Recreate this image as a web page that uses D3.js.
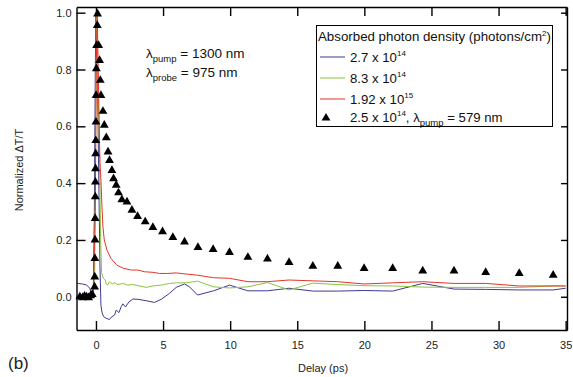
<!DOCTYPE html>
<html>
<head>
<meta charset="utf-8">
<script src="https://cdn.jsdelivr.net/npm/d3@7"></script>
<style>
  body { margin: 0; background: #fff; }
  svg { font-family: "Liberation Sans", Arial, sans-serif; }
  .axis text { font-size: 11px; fill: #222; }
  .axis path, .axis line { stroke: #000; stroke-width: 1.4; }
</style>
</head>
<body>
<svg width="573" height="377"></svg>
<script>
// delay (ps) / normalized dT/T
var blueX = [-1.4, -1.0, -0.7, -0.45, -0.35, -0.2, -0.12, -0.05, 0.0, 0.1, 0.2, 0.3, 0.37, 0.45, 0.57, 0.77, 1.01, 1.14, 1.39, 1.51, 1.71, 1.88, 2.0, 2.2, 2.46, 2.75, 3.13, 3.5, 3.87, 4.36, 4.86, 5.48, 5.98, 6.6, 6.97, 7.57, 8.76, 9.95, 11.32, 12.78, 14.39, 16.16, 18.02, 19.98, 22.11, 24.35, 26.68, 29.04, 31.54, 34.07, 35.0];
var blueY = [0.047, 0.045, 0.041, 0.03, 0.005, 0.01, 0.3, 0.8, 1.0, 0.8, 0.45, 0.1, -0.03, -0.055, -0.07, -0.076, -0.08, -0.072, -0.064, -0.047, -0.056, -0.035, -0.025, -0.036, -0.018, -0.008, -0.009, -0.012, -0.015, -0.02, -0.009, 0.012, 0.033, 0.045, 0.035, 0.006, 0.021, 0.041, 0.021, 0.021, 0.03, 0.02, 0.02, 0.022, 0.02, 0.047, 0.027, 0.026, 0.024, 0.024, 0.03];

var greenX = [-1.3, -0.3, -0.1, 0.0, 0.05, 0.12, 0.25, 0.35, 0.42, 0.55, 0.69, 0.77, 0.86, 1.01, 1.21, 1.39, 1.64, 2.0, 2.38, 2.75, 3.25, 3.75, 4.24, 4.86, 5.48, 6.0, 6.72, 7.57, 8.76, 9.95, 11.32, 12.78, 14.39, 16.16, 18.02, 19.98, 22.11, 24.35, 26.68, 29.04, 31.54, 34.07, 35.0];
var greenY = [0.0, 0.0, 0.05, 0.7, 1.0, 0.8, 0.55, 0.2, 0.085, 0.065, 0.059, 0.045, 0.041, 0.053, 0.045, 0.049, 0.043, 0.047, 0.041, 0.043, 0.038, 0.033, 0.038, 0.041, 0.047, 0.049, 0.049, 0.055, 0.035, 0.031, 0.035, 0.05, 0.024, 0.048, 0.043, 0.039, 0.038, 0.034, 0.033, 0.033, 0.033, 0.038, 0.038];

var redX = [-1.3, -0.5, -0.2, -0.05, 0.02, 0.09, 0.17, 0.24, 0.3, 0.37, 0.45, 0.52, 0.62, 0.82, 1.12, 1.56, 2.06, 2.63, 3.13, 3.62, 4.24, 4.74, 5.36, 5.98, 6.72, 7.57, 8.76, 9.95, 11.32, 12.78, 14.39, 16.16, 18.02, 19.98, 22.11, 24.35, 26.68, 29.04, 31.54, 34.07, 35.0];
var redY = [0.0, 0.0, 0.01, 0.3, 0.8, 1.0, 0.8, 0.6, 0.47, 0.41, 0.316, 0.246, 0.2, 0.164, 0.135, 0.111, 0.1, 0.094, 0.094, 0.088, 0.086, 0.082, 0.082, 0.084, 0.08, 0.076, 0.067, 0.065, 0.053, 0.053, 0.059, 0.056, 0.053, 0.045, 0.049, 0.053, 0.047, 0.047, 0.038, 0.038, 0.038];

var triX = [-1.2, -1.0, -0.85, -0.7, -0.55, -0.4, -0.28,
  -0.1, -0.09, -0.08, -0.07, -0.06, -0.05, -0.04, -0.03, -0.02, -0.01, 0.0, 0.01, 0.03, 0.05, 0.1, 0.12,
  0.2, 0.27, 0.32, 0.37, 0.52, 0.62, 0.77, 0.9, 1.01, 1.19, 1.31, 1.51, 1.68, 1.93, 2.31, 2.68, 3.1, 3.67, 4.24, 4.96, 5.73, 6.6, 7.6, 8.73, 9.95, 11.32, 12.78, 14.39, 16.16, 18.02, 19.98, 22.11, 24.35, 26.68, 29.04, 31.54, 34.07];
var triY = [0.0, -0.003, 0.002, 0.0, -0.003, 0.004, 0.008,
  0.035, 0.07, 0.135, 0.2, 0.276, 0.352, 0.404, 0.451, 0.504, 0.55, 0.615, 0.709, 0.803, 0.885, 0.955, 0.996,
  0.885, 0.832, 0.762, 0.709, 0.653, 0.604, 0.56, 0.51, 0.48, 0.445, 0.416, 0.393, 0.366, 0.342, 0.334, 0.305, 0.283, 0.264, 0.244, 0.229, 0.209, 0.193, 0.174, 0.167, 0.156, 0.139, 0.133, 0.121, 0.108, 0.108, 0.1, 0.1, 0.091, 0.091, 0.086, 0.082, 0.076];

var xTicks = [0, 5, 10, 15, 20, 25, 30, 35];
var yTicks = [0, 0.2, 0.4, 0.6, 0.8, 1.0];
var legendLabels = ["2.7 x 10", "8.3 x 10", "1.92 x 10"];
var legendExp = ["14", "14", "15"];
var colors = ["#3d3b8e", "#8cc43f", "#e3352a"];

var svg = d3.select("svg");
var mLeft = 76.5, mRight = 567, mTop = 7, mBottom = 330;

var x = d3.scaleLinear().domain([-1.45, 35.1]).range([mLeft, mRight]);
var y = d3.scaleLinear().domain([-0.117, 1.02]).range([mBottom, mTop]);

function zip(xs, ys) {
  return xs.map(function(v, i) { return [v, ys[i]]; });
}

var line = d3.line().x(function(d) { return x(d[0]); }).y(function(d) { return y(d[1]); });

svg.append("clipPath").attr("id", "clip")
  .append("rect").attr("x", mLeft).attr("y", mTop).attr("width", mRight - mLeft).attr("height", mBottom - mTop);

var plot = svg.append("g").attr("clip-path", "url(#clip)");

[zip(blueX, blueY), zip(greenX, greenY), zip(redX, redY)].forEach(function(s, i) {
  plot.append("path").datum(s)
    .attr("fill", "none")
    .attr("stroke", colors[i])
    .attr("stroke-width", 1)
    .attr("d", line);
});

var tri = d3.symbol().type(d3.symbolTriangle).size(34);
svg.append("g").selectAll(".tri").data(zip(triX, triY)).enter().append("path")
  .attr("class", "tri")
  .attr("d", tri)
  .attr("fill", "#000")
  .attr("transform", function(d) { return "translate(" + x(d[0]) + "," + y(d[1]) + ")"; });

// axes (frame on all four sides, ticks inward)
svg.append("g").attr("class", "axis")
  .attr("transform", "translate(0," + mBottom + ")")
  .call(d3.axisBottom(x).tickValues(xTicks).tickSizeInner(-9).tickSizeOuter(0).tickPadding(11));
svg.append("g").attr("class", "axis")
  .attr("transform", "translate(0," + mTop + ")")
  .call(d3.axisTop(x).tickValues(xTicks).tickSizeInner(-9).tickSizeOuter(0).tickFormat(""));
svg.append("g").attr("class", "axis")
  .attr("transform", "translate(" + mLeft + ",0)")
  .call(d3.axisLeft(y).tickValues(yTicks).tickSizeInner(-9).tickSizeOuter(0).tickPadding(5).tickFormat(d3.format(".1f")));
svg.append("g").attr("class", "axis")
  .attr("transform", "translate(" + mRight + ",0)")
  .call(d3.axisRight(y).tickValues(yTicks).tickSizeInner(-6).tickSizeOuter(0).tickFormat(""));

svg.append("text")
  .attr("transform", "translate(23,170) rotate(-90)")
  .attr("text-anchor", "middle")
  .attr("font-size", 11).attr("fill", "#222")
  .text("Normalized \u0394T/T");

svg.append("text")
  .attr("x", 323).attr("y", 372)
  .attr("text-anchor", "middle")
  .attr("font-size", 11).attr("fill", "#222")
  .text("Delay (ps)");

svg.append("text")
  .attr("x", 8).attr("y", 369)
  .attr("font-size", 17).attr("fill", "#222")
  .text("(b)");

// annotation
function lambdaText(g, px, py, sub, rest) {
  var t = g.append("text").attr("x", px).attr("y", py).attr("font-size", 13.5).attr("fill", "#111");
  t.append("tspan").text("\u03bb");
  t.append("tspan").attr("font-size", 9.5).attr("dy", 4).text(sub);
  t.append("tspan").attr("dy", -4).text(rest);
  return t;
}
lambdaText(svg, 146, 58, "pump", " = 1300 nm");
lambdaText(svg, 146, 77, "probe", " = 975 nm");

// legend
var lg = svg.append("g");
lg.append("rect")
  .attr("x", 316.5).attr("y", 25.5).attr("width", 236).attr("height", 101)
  .attr("fill", "#fff").attr("stroke", "#000").attr("stroke-width", 1);
var title = lg.append("text").attr("x", 318).attr("y", 41).attr("font-size", 13.3).attr("fill", "#111");
title.append("tspan").text("Absorbed photon density (photons/cm");
title.append("tspan").attr("font-size", 8).attr("dy", -5).text("2");
title.append("tspan").attr("dy", 5).text(")");

var rowY = [57, 78, 99];
legendLabels.forEach(function(lab, i) {
  lg.append("line")
    .attr("x1", 320).attr("x2", 345).attr("y1", rowY[i]).attr("y2", rowY[i])
    .attr("stroke", colors[i]).attr("stroke-width", 1);
  var t = lg.append("text").attr("x", 350).attr("y", rowY[i] + 5).attr("font-size", 13.2).attr("fill", "#111");
  t.append("tspan").text(lab);
  t.append("tspan").attr("font-size", 8).attr("dy", -6).text(legendExp[i]);
});
lg.append("path").attr("d", tri).attr("fill", "#000")
  .attr("transform", "translate(326,118)");
var t4 = lg.append("text").attr("x", 350).attr("y", 122).attr("font-size", 13.2).attr("fill", "#111");
t4.append("tspan").text("2.5 x 10");
t4.append("tspan").attr("font-size", 8).attr("dy", -6).text("14");
t4.append("tspan").attr("dy", 6).text(", \u03bb");
t4.append("tspan").attr("font-size", 9.5).attr("dy", 4).text("pump");
t4.append("tspan").attr("dy", -4).text(" = 579 nm");
</script>
</body>
</html>
